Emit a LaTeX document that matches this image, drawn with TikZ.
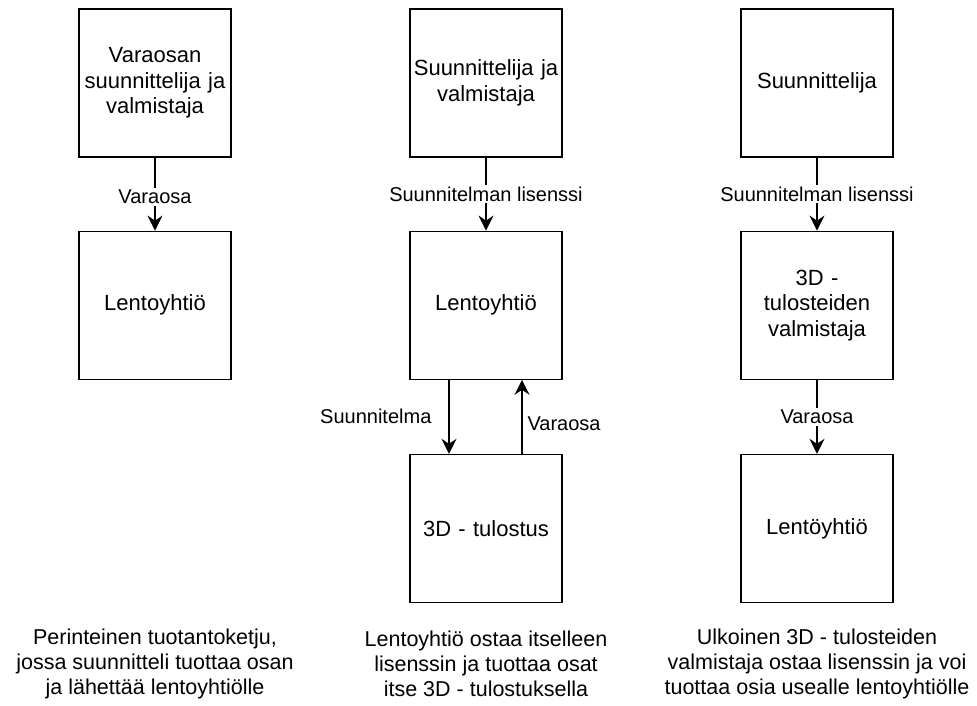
\documentclass[tikz,border=0pt]{standalone}
\usepackage{fontspec}
\setmainfont{Liberation Sans}
\usetikzlibrary{positioning,arrows.meta}

\begin{document}
\begin{tikzpicture}[x=1pt,y=-1pt,node distance=73pt,
        box/.style={draw,line width=1.2pt,minimum width=147pt,minimum height=148pt,
            text width=152pt,align=center,inner sep=0pt,
            font=\fontsize{22}{25.5}\selectfont},
        lbl/.style={fill=white,inner sep=2pt,font=\fontsize{20}{23}\selectfont},
        note/.style={align=center,font=\fontsize{21.5}{25}\selectfont},
        arr/.style={line width=1.2pt,-{Stealth[length=15pt,width=15pt,inset=5pt]}}]

    \useasboundingbox (0,0) rectangle (977,706);

    % perinteinen
    \node[box] (varaosan) at (155,83) {Varaosan\\suunnittelija ja\\valmistaja};
    \node[box,below=of varaosan] (lento1) {Lentoyhtiö};

    % oma tulostus
    \node[box] (suunn2) at (486,83) {Suunnittelija ja\\valmistaja};
    \node[box,below=of suunn2] (lento2) {Lentoyhtiö};
    \node[box,below=74pt of lento2] (tulostus) {3D - tulostus};

    % ulkoinen valmistaja
    \node[box] (suunn3) at (817,83) {Suunnittelija};
    \node[box,below=of suunn3] (valm3) {3D -\\tulosteiden\\valmistaja};
    \node[box,below=74pt of valm3] (lento3) {Lentöyhtiö};

    \draw[arr] (varaosan) -- node[lbl,yshift=-3pt] {Varaosa} (lento1);
    \draw[arr] (suunn2) -- node[lbl] {Suunnitelman lisenssi} (lento2);
    \draw[arr] ([xshift=-37pt]lento2.south) -- node[left=17pt,inner sep=0pt] {\fontsize{20}{23}\selectfont Suunnitelma} ([xshift=-37pt]tulostus.north);
    \draw[arr] ([xshift=36pt]tulostus.north) -- node[right=5pt,inner sep=0pt,yshift=-7pt] {\fontsize{20}{23}\selectfont Varaosa} ([xshift=36pt]lento2.south);
    \draw[arr] (suunn3) -- node[lbl] {Suunnitelman lisenssi} (valm3);
    \draw[arr] (valm3) -- node[lbl] {Varaosa} (lento3);

    \node[note] (teksti1) at (155,664) {Perinteinen tuotantoketju,\\jossa suunnitteli tuottaa osan\\ja lähettää lentoyhtiölle};
    \node[note] (teksti2) at (486,664) {Lentoyhtiö ostaa itselleen\\lisenssin ja tuottaa osat\\itse 3D - tulostuksella};
    \node[note] (teksti3) at (817,664) {Ulkoinen 3D - tulosteiden\\valmistaja ostaa lisenssin ja voi\\tuottaa osia usealle lentoyhtiölle};
\end{tikzpicture}
\end{document}
